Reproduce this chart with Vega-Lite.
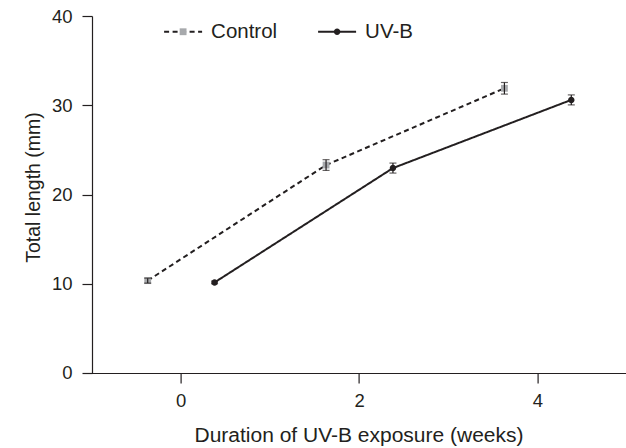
{
  "$schema": "https://vega.github.io/schema/vega-lite/v6.json",
  "width": 544,
  "height": 357,
  "autosize": {"type": "none"},
  "padding": {"left": 82.6, "top": 16, "right": 0, "bottom": 75},
  "background": "white",
  "config": {
    "view": {"stroke": null},
    "font": "Liberation Sans",
    "axis": {
      "grid": false,
      "domainColor": "#231f20",
      "domainWidth": 1.2,
      "tickColor": "#231f20",
      "tickWidth": 1.2,
      "tickSize": 10,
      "labelFont": "Liberation Sans",
      "labelFontSize": 18.5,
      "labelColor": "#231f20",
      "titleFont": "Liberation Sans",
      "titleFontWeight": "normal",
      "titleColor": "#231f20"
    }
  },
  "data": {
    "values": [
      {"series": "Control", "x": -0.37, "y": 10.35, "lo": 10.07, "hi": 10.63},
      {"series": "Control", "x": 1.63, "y": 23.3, "lo": 22.7, "hi": 23.9},
      {"series": "Control", "x": 3.63, "y": 31.9, "lo": 31.25, "hi": 32.55},
      {"series": "UV-B", "x": 0.38, "y": 10.15, "lo": 10.0, "hi": 10.3},
      {"series": "UV-B", "x": 2.38, "y": 22.96, "lo": 22.4, "hi": 23.52},
      {"series": "UV-B", "x": 4.38, "y": 30.6, "lo": 30.04, "hi": 31.16}
    ]
  },
  "layer": [
    {
      "mark": {"type": "line", "strokeWidth": 2, "color": "#231f20"},
      "encoding": {
        "x": {
          "field": "x", "type": "quantitative",
          "scale": {"domain": [-1.1, 5], "nice": false, "zero": false},
          "axis": {"values": [0, 2, 4], "format": "d", "labelPadding": 9, "titleFontSize": 21, "titleX": 275.9, "titleY": 68.7, "titleBaseline": "alphabetic", "titleAlign": "center"},
          "title": "Duration of UV-B exposure (weeks)"
        },
        "y": {
          "field": "y", "type": "quantitative",
          "scale": {"domain": [0, 40], "nice": false},
          "axis": {"values": [0, 10, 20, 30, 40], "format": "d", "offset": -9.4, "labelPadding": 10, "titleFontSize": 19.5, "titleAngle": -90, "titleX": -52, "titleY": 171, "titleBaseline": "alphabetic", "titleAlign": "center"},
          "title": "Total length (mm)"
        },
        "strokeDash": {
          "field": "series", "type": "nominal",
          "scale": {"domain": ["Control", "UV-B"], "range": [[5, 3.5], [1, 0]]},
          "legend": {
            "title": null, "orient": "none", "legendX": 80.5, "legendY": -4.5,
            "direction": "horizontal", "symbolType": "stroke", "symbolSize": 1444,
            "symbolStrokeWidth": 2, "symbolStrokeColor": "#231f20",
            "labelFont": "Liberation Sans", "labelFontSize": 20.5, "labelColor": "#231f20",
            "labelOffset": 8, "columnPadding": 36, "padding": 0, "symbolOffset": 0, "zindex": 1
          }
        }
      }
    },
    {
      "mark": {"type": "point", "filled": true, "size": 1444, "opacity": 1},
      "encoding": {
        "x": {"field": "x", "type": "quantitative", "title": "Duration of UV-B exposure (weeks)"},
        "y": {"field": "y", "type": "quantitative", "title": "Total length (mm)"},
        "shape": {
          "field": "series", "type": "nominal",
          "scale": {"range": ["M-1,0M1,0M-0.18,-0.18H0.18V0.18H-0.18Z", "M-1,0M1,0M0.17,0A0.17,0.17,0,1,1,-0.17,0A0.17,0.17,0,1,1,0.17,0Z"]},
          "legend": {
            "title": null, "orient": "none", "legendX": 80.5, "legendY": -4.5,
            "direction": "horizontal", "symbolSize": 1444,
            "symbolStrokeWidth": 2, "symbolStrokeColor": "transparent",
            "labelFont": "Liberation Sans", "labelFontSize": 20.5, "labelColor": "transparent",
            "labelOffset": 8, "columnPadding": 36, "padding": 0, "symbolOffset": 0, "zindex": 2
          }
        },
        "color": {
          "field": "series", "type": "nominal",
          "scale": {"range": ["#a7a9ac", "#231f20"]},
          "legend": {
            "title": null, "orient": "none", "legendX": 80.5, "legendY": -4.5,
            "direction": "horizontal", "symbolSize": 1444,
            "symbolStrokeWidth": 2, "symbolStrokeColor": "transparent",
            "labelFont": "Liberation Sans", "labelFontSize": 20.5, "labelColor": "transparent",
            "labelOffset": 8, "columnPadding": 36, "padding": 0, "symbolOffset": 0, "zindex": 2
          }
        }
      }
    },
    {
      "mark": {"type": "errorbar", "orient": "vertical", "ticks": {"size": 7, "thickness": 1.2, "color": "#231f20"}, "rule": {"color": "#231f20", "strokeWidth": 1.2}},
      "encoding": {
        "x": {"field": "x", "type": "quantitative", "title": "Duration of UV-B exposure (weeks)"},
        "y": {"field": "lo", "type": "quantitative", "title": "Total length (mm)"},
        "y2": {"field": "hi"}
      }
    }
  ]
}
